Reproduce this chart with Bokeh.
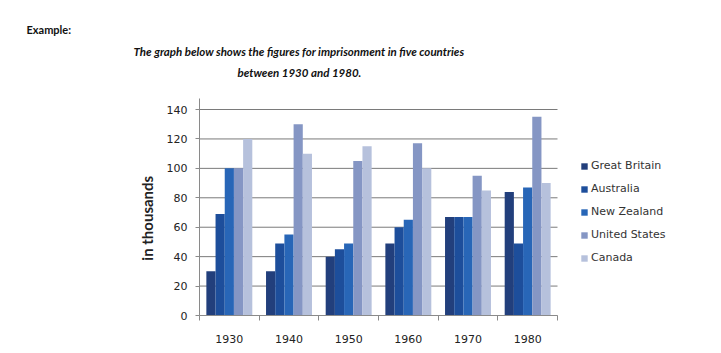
from bokeh.plotting import figure
from bokeh.models import (ColumnDataSource, Range1d, LinearAxis, FixedTicker,
                          Legend, LegendItem, Title)
from bokeh.transform import dodge
from bokeh.embed import file_html
from bokeh.resources import INLINE

years = ["1930", "1940", "1950", "1960", "1970", "1980"]
great_britain = [30, 30, 40, 49, 67, 84]
australia = [69, 49, 45, 60, 67, 49]
new_zealand = [100, 55, 49, 65, 67, 87]
united_states = [100, 130, 105, 117, 95, 135]
canada = [120, 110, 115, 100, 85, 90]
series_names = ["Great Britain", "Australia", "New Zealand", "United States", "Canada"]
y_ticks = [0, 20, 40, 60, 80, 100, 120, 140]
heading = "Example:"
title_lines = ["The graph below shows the figures for imprisonment in five countries",
               "between 1930 and 1980."]
y_label = "in thousands"

colors = ["#223f7c", "#1d4e9b", "#2866b7", "#8596c4", "#b6c1dc"]

W, H = 721, 353
L, T, B = 199, 84, 38
PLOT_R = 557          # right end of the plotting area
n = len(years)
unit = (PLOT_R - L) / n   # px per category
y_top = 157.0             # frame top (axis line drawn only up to y_axis_end)
y_axis_end = 147.5

pos = [i + 0.5 for i in range(n)]
source = ColumnDataSource(dict(pos=pos, gb=great_britain, au=australia, nz=new_zealand,
                               us=united_states, ca=canada))
cols = ["gb", "au", "nz", "us", "ca"]

x_end = (W - L) / unit
p = figure(width=W, height=H, x_range=Range1d(0, x_end), y_range=Range1d(0, y_top),
           output_backend="svg", toolbar_location=None, x_axis_location=None,
           min_border_left=L, min_border_right=0, min_border_top=T, min_border_bottom=B)
p.outline_line_color = None
p.xgrid.grid_line_color = None
p.ygrid.grid_line_color = None

# titles (first added sits nearest the plot)
tfont = dict(text_font="Lato", text_font_style="bold italic", text_font_size="11.5px",
             text_color="#111111", align="left")
p.add_layout(Title(text=title_lines[1], offset=237 - L, standoff=12, **tfont), "above")
p.add_layout(Title(text=title_lines[0], offset=133 - L, standoff=0, **tfont), "above")
p.add_layout(Title(text=heading, align="left", offset=26 - L, text_font="Lato",
                   text_font_style="bold", text_font_size="11px", standoff=14,
                   text_color="#111111"), "above")

# gridlines limited to the plotting area
p.segment(x0=0, x1=n, y0=y_ticks, y1=y_ticks, line_color="#7a7a7a", line_width=1)

bw = 0.154
renderers = []
for i, (c, col) in enumerate(zip(cols, colors)):
    off = (i - 2) * bw
    r = p.vbar(x=dodge("pos", off), top=c, width=bw, source=source,
               fill_color=col, line_color=None)
    renderers.append(r)

ya = p.yaxis[0]
ya.ticker = FixedTicker(ticks=y_ticks)
ya.bounds = (0, y_axis_end)
ya.axis_line_color = "#8a8a8a"
ya.major_tick_line_color = "#8a8a8a"
ya.major_tick_out = 4
ya.major_tick_in = 0
ya.minor_tick_line_color = None
ya.major_label_standoff = 8
ya.major_label_text_font = "DejaVu Sans"
ya.major_label_text_font_size = "11px"
ya.major_label_text_color = "#222222"
# trailing no-break spaces shift the centred label down toward the plotting area's middle
ya.axis_label = y_label + "\u00a0" * 10
ya.axis_label_text_font = "Lato"
ya.axis_label_text_font_style = "bold"
ya.axis_label_text_font_size = "15px"
ya.axis_label_text_color = "#222222"
ya.axis_label_standoff = 8

xa = LinearAxis(ticker=FixedTicker(ticks=pos, minor_ticks=list(range(n + 1))),
                major_label_overrides={q: y for q, y in zip(pos, years)}, bounds=(0, n))
xa.axis_line_color = "#8a8a8a"
xa.major_tick_out = 0
xa.major_tick_in = 0
xa.major_tick_line_color = None
xa.minor_tick_out = 5
xa.minor_tick_in = 0
xa.minor_tick_line_color = "#8a8a8a"
xa.major_label_standoff = 14
xa.major_label_text_font = "DejaVu Sans"
xa.major_label_text_font_size = "11px"
xa.major_label_text_color = "#222222"
p.add_layout(xa, "below")

items = [LegendItem(label=nm, renderers=[r]) for nm, r in zip(series_names, renderers)]
leg = Legend(items=items, location=(580 - L, 50), padding=0, margin=0, spacing=8,
             glyph_width=8, glyph_height=8, label_height=15, label_standoff=3,
             label_text_font="DejaVu Sans", label_text_font_size="11px",
             label_text_color="#333333", border_line_color=None,
             background_fill_alpha=0)
p.add_layout(leg, "center")

open("out.html", "w").write(file_html(p, INLINE))
